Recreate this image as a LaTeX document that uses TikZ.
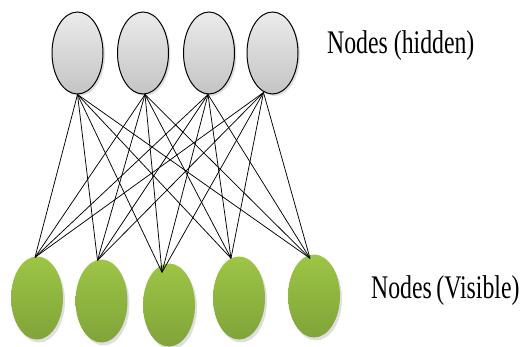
\documentclass[tikz,border=0pt]{standalone}
\usepackage{fontspec}
\setmainfont{Liberation Serif}
\usetikzlibrary{shapes.geometric,shadows}
\definecolor{hidtop}{HTML}{EBEBEB}
\definecolor{hidbot}{HTML}{C4C4C4}
\definecolor{vistop}{HTML}{9DC546}
\definecolor{visbot}{HTML}{80A439}
\begin{document}
\begin{tikzpicture}[x=1pt,y=-1pt,
  hid/.style={ellipse, draw=black, line width=1pt, minimum width=51pt, minimum height=82pt, inner sep=0pt,
    top color=hidtop, bottom color=hidbot,
    drop shadow={shadow xshift=2pt, shadow yshift=-2pt, opacity=0.25, fill=gray}},
  vis/.style={ellipse, draw=none, minimum width=52pt, minimum height=83pt, inner sep=0pt,
    top color=vistop, bottom color=visbot,
    drop shadow={shadow xshift=2pt, shadow yshift=-3pt, opacity=0.25, fill=gray}},
  conn/.style={draw=black, line width=0.75pt},
  lbl/.style={anchor=base west, inner sep=0pt, font=\fontsize{33}{36}\selectfont}]
\useasboundingbox (0,0) rectangle (524,347);
% hidden layer
\node[hid] (h1) at (77.5,53) {};
\node[hid] (h2) at (143,53) {};
\node[hid] (h3) at (209,53) {};
\node[hid] (h4) at (272.5,53) {};
% visible layer
\node[vis] (v1) at (37,298) {};
\node[vis] (v2) at (101.5,301) {};
\node[vis] (v3) at (169,305) {};
\node[vis] (v4) at (239,298) {};
\node[vis] (v5) at (314,296) {};
% connection end points
\coordinate (a1) at (h1.south);
\coordinate (a2) at ([xshift=2pt]h2.south);
\coordinate (a3) at ([xshift=-1pt]h3.south);
\coordinate (a4) at ([shift={(-9,-2)}]h4.south);
\coordinate (b1) at ([shift={(-2,1)}]v1.north);
\coordinate (b2) at ([shift={(-4,1)}]v2.north);
\coordinate (b3) at ([shift={(-7,9)}]v3.north);
\coordinate (b4) at ([shift={(-8,2)}]v4.north);
\coordinate (b5) at ([shift={(-4,4)}]v5.north);
\foreach \h in {1,...,4}{
  \foreach \v in {1,...,5}{
    \draw[conn] (a\h) -- (b\v);
  }
}
% labels
\node[lbl] (th) at (327,54) {\scalebox{0.72}[1]{Nodes (hidden)}};
\node[lbl] (tv) at (371,298) {\scalebox{0.72}[1]{Nodes\kern-2pt{} (Visible)}};
\end{tikzpicture}
\end{document}
